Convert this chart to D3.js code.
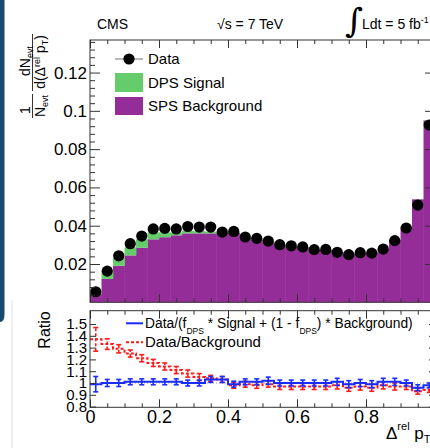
<!DOCTYPE html>
<html>
<head>
<meta charset="utf-8">
<script src="https://cdn.jsdelivr.net/npm/d3@7"></script>
<style>
  body { margin: 0; background: #ffffff; }
  svg { display: block; font-family: "Liberation Sans", Arial, sans-serif; }
</style>
</head>
<body>
<svg id="chart"></svg>
<script>
// Binning: 30 bins over Δrel pT from 0 to 1
let nBins = 30;
let binEdges = d3.range(nBins + 1).map(i => i / nBins);

// Main panel values (normalised per bin)
let dataValues = [0.0055, 0.0163, 0.0243, 0.0306, 0.0346, 0.0383, 0.0386, 0.0383, 0.0396, 0.0393,
                  0.0393, 0.0367, 0.0370, 0.0341, 0.0334, 0.0320, 0.0301, 0.0295, 0.0289, 0.0275,
                  0.0276, 0.0261, 0.0249, 0.0259, 0.0257, 0.0278, 0.0322, 0.0388, 0.0508, 0.0926];
let spsBackground = [0.0045, 0.0122, 0.0191, 0.0245, 0.0285, 0.0329, 0.0340, 0.0350, 0.0360, 0.0360,
                     0.0360, 0.0362, 0.0362, 0.0337, 0.0326, 0.0313, 0.0297, 0.0292, 0.0286, 0.0273,
                     0.0273, 0.0262, 0.0252, 0.0257, 0.0258, 0.0279, 0.0325, 0.0395, 0.0538, 0.0950];
let dpsSignal = [0.0008, 0.0043, 0.0040, 0.0042, 0.0044, 0.0036, 0.0025, 0.0015, 0.0014, 0.0012,
                 0.0009, 0.0006, 0.0004, 0.0004, 0.0005, 0.0006, 0.0003, 0.0002, 0.0002, 0.0001,
                 0.0001, 0.0001, 0.0001, 0.0001, 0.0001, 0.0001, 0.0001, 0.0001, 0.0001, 0.0001];

// Ratio panel values
let ratioFit = [0.99, 1.00, 1.00, 1.01, 1.01, 1.01, 1.01, 1.01, 1.00, 1.00,
                1.03, 1.03, 0.99, 1.01, 1.01, 1.02, 1.00, 1.00, 1.00, 1.00,
                1.00, 1.01, 0.99, 1.00, 0.99, 1.01, 1.01, 1.00, 0.96, 0.98];
let ratioFitErr = [0.065, 0.03, 0.03, 0.025, 0.025, 0.025, 0.025, 0.025, 0.025, 0.025,
                   0.025, 0.025, 0.025, 0.025, 0.025, 0.03, 0.025, 0.025, 0.025, 0.025,
                   0.025, 0.03, 0.03, 0.03, 0.03, 0.03, 0.03, 0.025, 0.025, 0.02];
let ratioBkg = [1.37, 1.33, 1.29, 1.25, 1.21, 1.17, 1.14, 1.11, 1.08, 1.05,
                1.04, 1.03, 0.98, 0.99, 0.98, 0.99, 0.97, 0.97, 0.97, 0.97,
                0.97, 0.98, 0.96, 0.97, 0.96, 0.98, 0.97, 0.97, 0.93, 0.94];
let ratioBkgErr = [0.1, 0.045, 0.035, 0.03, 0.03, 0.03, 0.03, 0.03, 0.03, 0.03,
                   0.025, 0.025, 0.025, 0.025, 0.025, 0.025, 0.025, 0.025, 0.025, 0.025,
                   0.025, 0.03, 0.03, 0.03, 0.03, 0.03, 0.03, 0.025, 0.025, 0.02];

// Tick labels
let xTickValues = [0, 0.2, 0.4, 0.6, 0.8];
let mainYTickValues = [0.02, 0.04, 0.06, 0.08, 0.1, 0.12];
let ratioYTickValues = [0.8, 0.9, 1, 1.1, 1.2, 1.3, 1.4, 1.5];

// Dimensions
let width = 430, height = 448;
let left = 90, right = 435;
let mainTop = 40, mainBottom = 302.3;
let ratioTop = 310.7, ratioBottom = 407.3;

let colPurple = '#952d98', colGreen = '#64cc6a', colFrame = '#333333';

let svg = d3.select('#chart').attr('width', width).attr('height', height);

// Scales
let xScale = d3.scaleLinear().domain([0, 1]).range([left, right]);
let yMain = d3.scaleLinear().domain([0, 0.137]).range([mainBottom, mainTop]);
let yRatio = d3.scaleLinear().domain([0.794, 1.613]).range([ratioBottom, ratioTop]);

let bins = d3.range(nBins).map(i => ({
    x0: binEdges[i], x1: binEdges[i + 1], c: (binEdges[i] + binEdges[i + 1]) / 2,
    data: dataValues[i], bkg: spsBackground[i], sig: dpsSignal[i],
    rFit: ratioFit[i], rFitErr: ratioFitErr[i], rBkg: ratioBkg[i], rBkgErr: ratioBkgErr[i]
}));

// Page decorations on the left
svg.append('path')
    .attr('d', 'M0,0 H4.5 V314 Q4.5,322 0,322 Z')
    .attr('fill', '#17496f');
svg.append('line')
    .attr('x1', 12).attr('x2', 12).attr('y1', 300).attr('y2', height)
    .attr('stroke', '#e2e2e2');

// Header texts
svg.append('text').attr('x', 97).attr('y', 29).attr('font-size', 14).text('CMS');
svg.append('text').attr('x', 217).attr('y', 29).attr('font-size', 14).text('√s = 7 TeV');
svg.append('text')
    .attr('transform', 'translate(345,32) scale(1.2,1.15)')
    .attr('font-family', 'DejaVu Serif')
    .attr('font-size', 29).text('∫');
let lumi = svg.append('text').attr('x', 362).attr('y', 29).attr('font-size', 14);
lumi.append('tspan').text('Ldt = 5 fb');
lumi.append('tspan').attr('font-size', 9).attr('dy', -6).text('-1');

// Stacked histogram: SPS background, then DPS signal
let gMain = svg.append('g');
gMain.selectAll('rect.bkg')
    .data(bins).enter().append('rect')
    .attr('class', 'bkg')
    .attr('x', d => xScale(d.x0))
    .attr('width', d => xScale(d.x1) - xScale(d.x0) + 0.4)
    .attr('y', d => yMain(d.bkg))
    .attr('height', d => yMain(0) - yMain(d.bkg))
    .attr('fill', colPurple);
gMain.selectAll('rect.sig')
    .data(bins).enter().append('rect')
    .attr('class', 'sig')
    .attr('x', d => xScale(d.x0))
    .attr('width', d => xScale(d.x1) - xScale(d.x0) + 0.4)
    .attr('y', d => yMain(d.bkg + d.sig))
    .attr('height', d => yMain(d.bkg) - yMain(d.bkg + d.sig))
    .attr('fill', colGreen);

// Data points
gMain.selectAll('circle.pt')
    .data(bins).enter().append('circle')
    .attr('class', 'pt')
    .attr('cx', d => xScale(d.c))
    .attr('cy', d => yMain(d.data))
    .attr('r', 5.6)
    .attr('fill', '#000');

// Axes helper: inward ticks on all four sides
function drawAxes(yScale, top, bottom, yMajor, yMinor, yMajorLen, yMinorLen, yFontSize, yFormat, xLabels) {
    let xMinor = d3.range(0, 1.0001, 0.05).filter(v => Math.abs(v / 0.2 - Math.round(v / 0.2)) > 1e-6);
    let xMajor = [0, 0.2, 0.4, 0.6, 0.8, 1];

    let axes = [
        { g: d3.axisBottom(xScale).tickValues(xMajor).tickSize(-8), t: `translate(0,${bottom})`, labels: xLabels },
        { g: d3.axisBottom(xScale).tickValues(xMinor).tickSize(-4), t: `translate(0,${bottom})` },
        { g: d3.axisTop(xScale).tickValues(xMajor).tickSize(-8), t: `translate(0,${top})` },
        { g: d3.axisTop(xScale).tickValues(xMinor).tickSize(-4), t: `translate(0,${top})` },
        { g: d3.axisLeft(yScale).tickValues(yMajor).tickSize(-yMajorLen), t: `translate(${left},0)`, yLabels: true },
        { g: d3.axisRight(yScale).tickValues(yMajor).tickSize(-yMajorLen), t: `translate(${right},0)` }
    ];
    if (yMinor) {
        axes.push({ g: d3.axisLeft(yScale).tickValues(yMinor).tickSize(-yMinorLen), t: `translate(${left},0)` });
        axes.push({ g: d3.axisRight(yScale).tickValues(yMinor).tickSize(-yMinorLen), t: `translate(${right},0)` });
    }

    axes.forEach(a => {
        if (a.labels) {
            a.g.tickPadding(3).tickFormat(d => xTickValues.includes(d) ? d3.format('~g')(d) : '');
        } else if (a.yLabels) {
            a.g.tickPadding(3).tickFormat(yFormat);
        } else {
            a.g.tickFormat('');
        }
        let g = svg.append('g').attr('transform', a.t).call(a.g);
        g.select('.domain').remove();
        g.selectAll('line').attr('stroke', colFrame);
        g.selectAll('text').attr('fill', '#000').attr('font-family', '"Liberation Sans", Arial, sans-serif');
        if (a.labels) g.selectAll('text').attr('font-size', 18);
        if (a.yLabels) g.selectAll('text').attr('font-size', yFontSize);
    });

    svg.append('rect')
        .attr('x', left).attr('y', top)
        .attr('width', right - left).attr('height', bottom - top)
        .attr('fill', 'none').attr('stroke', colFrame).attr('stroke-width', 1);
}

let mainMinor = d3.range(0, 0.1371, 0.004).filter(v => Math.abs(v / 0.02 - Math.round(v / 0.02)) > 1e-6);
drawAxes(yMain, mainTop, mainBottom, mainYTickValues, mainMinor, 10, 5, 17,
    d => String(+d.toFixed(2)), false);

// Main legend
let leg = svg.append('g');
leg.append('line').attr('x1', 115).attr('x2', 143).attr('y1', 59).attr('y2', 59)
    .attr('stroke', '#8a8a8a').attr('stroke-width', 1.2);
leg.append('circle').attr('cx', 129).attr('cy', 59).attr('r', 5.6).attr('fill', '#000');
leg.append('rect').attr('x', 115).attr('y', 73).attr('width', 28).attr('height', 19).attr('fill', colGreen);
leg.append('rect').attr('x', 115).attr('y', 97).attr('width', 28).attr('height', 18).attr('fill', colPurple);
[['Data', 59], ['DPS Signal', 82.5], ['SPS Background', 106]].forEach(([t, y]) => {
    leg.append('text').attr('x', 148).attr('y', y).attr('dy', '0.36em')
        .attr('font-size', 15).text(t);
});

// Main y title: 1/N_evt dN_evt/d(Δrel pT)
let yt = svg.append('g').attr('font-size', 14);
yt.append('text').attr('transform', 'translate(30,110) rotate(-90)')
    .attr('text-anchor', 'middle').text('1');
yt.append('line').attr('x1', 32.5).attr('x2', 32.5).attr('y1', 94).attr('y2', 118)
    .attr('stroke', '#000').attr('stroke-width', 0.8);
let nEvt = yt.append('text').attr('transform', 'translate(45,106) rotate(-90)').attr('text-anchor', 'middle');
nEvt.append('tspan').text('N');
nEvt.append('tspan').attr('font-size', 9).attr('dy', 3).text('evt');
let num = yt.append('text').attr('transform', 'translate(30,61) rotate(-90)').attr('text-anchor', 'middle');
num.append('tspan').text('dN');
num.append('tspan').attr('font-size', 9).attr('dy', 3).text('evt');
yt.append('line').attr('x1', 32.5).attr('x2', 32.5).attr('y1', 34).attr('y2', 91)
    .attr('stroke', '#000').attr('stroke-width', 0.8);
let den = yt.append('text').attr('transform', 'translate(45,62) rotate(-90)').attr('text-anchor', 'middle');
den.append('tspan').text('d(Δ');
den.append('tspan').attr('font-size', 9).attr('dy', -5).text('rel');
den.append('tspan').attr('dy', 5).text(' p');
den.append('tspan').attr('font-size', 9).attr('dy', 3).text('T');
den.append('tspan').attr('dy', -3).text(')');

// Ratio panel: reference line at 1
svg.append('line')
    .attr('x1', xScale(0)).attr('x2', xScale(1))
    .attr('y1', yRatio(1)).attr('y2', yRatio(1))
    .attr('stroke', '#9a9a9a').attr('stroke-dasharray', '1,2');

function stepPoints(key) {
    let pts = [];
    bins.forEach(d => { pts.push([xScale(d.x0), yRatio(d[key])]); pts.push([xScale(d.x1), yRatio(d[key])]); });
    return pts;
}
function drawRatio(key, errKey, color, dash) {
    let g = svg.append('g');
    g.append('path')
        .attr('d', d3.line()(stepPoints(key)))
        .attr('fill', 'none').attr('stroke', color).attr('stroke-width', 2)
        .attr('stroke-dasharray', dash);
    let eb = g.selectAll('g.eb').data(bins).enter().append('g');
    eb.append('line')
        .attr('x1', d => xScale(d.c)).attr('x2', d => xScale(d.c))
        .attr('y1', d => yRatio(d[key] - d[errKey])).attr('y2', d => yRatio(d[key] + d[errKey]))
        .attr('stroke', color).attr('stroke-width', 1.6).attr('stroke-dasharray', dash);
    [-1, 1].forEach(s => {
        eb.append('line')
            .attr('x1', d => xScale(d.c) - 2.5).attr('x2', d => xScale(d.c) + 2.5)
            .attr('y1', d => yRatio(d[key] + s * d[errKey])).attr('y2', d => yRatio(d[key] + s * d[errKey]))
            .attr('stroke', color).attr('stroke-width', 1.6);
    });
}
drawRatio('rBkg', 'rBkgErr', '#ff1a1a', '3,2');
drawRatio('rFit', 'rFitErr', '#1a2bff', null);

drawAxes(yRatio, ratioTop, ratioBottom, ratioYTickValues, null, 6, 0, 15,
    d => d3.format('~g')(d), true);

// Ratio legend
let rl = svg.append('g').attr('font-size', 15);
rl.append('line').attr('x1', 126).attr('x2', 143).attr('y1', 323.3).attr('y2', 323.3)
    .attr('stroke', '#1a2bff').attr('stroke-width', 2);
rl.append('line').attr('x1', 126).attr('x2', 143).attr('y1', 342.3).attr('y2', 342.3)
    .attr('stroke', '#ff1a1a').attr('stroke-width', 2).attr('stroke-dasharray', '3,2');
let l1 = rl.append('text').attr('x', 145).attr('y', 327.5).attr('font-size', 13.8);
l1.append('tspan').text('Data/(f');
l1.append('tspan').attr('font-size', 8.5).attr('dy', 6).text('DPS');
l1.append('tspan').attr('dy', -6).text(' * Signal + (1 - f');
l1.append('tspan').attr('font-size', 8.5).attr('dy', 6).text('DPS');
l1.append('tspan').attr('dy', -6).text(') * Background)');
rl.append('text').attr('x', 145).attr('y', 347).text('Data/Background');

// Ratio y title
svg.append('text')
    .attr('transform', 'translate(50,330) rotate(-90)')
    .attr('text-anchor', 'middle').attr('font-size', 16).text('Ratio');

// x title
let xt = svg.append('text').attr('x', 386).attr('y', 438.5).attr('font-size', 17);
xt.append('tspan').text('Δ');
xt.append('tspan').attr('font-size', 11).attr('dy', -9).text('rel');
xt.append('tspan').attr('dy', 9).text(' p');
xt.append('tspan').attr('font-size', 11).attr('dy', 4).text('T');
</script>
</body>
</html>
